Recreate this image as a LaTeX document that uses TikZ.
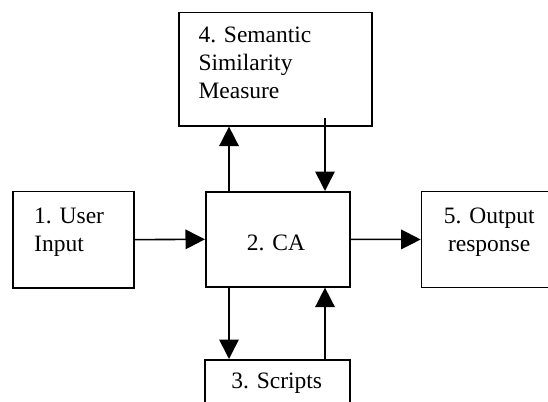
\documentclass[tikz,border=0pt]{standalone}
\usepackage{fontspec}
\setmainfont{Liberation Serif}
\usetikzlibrary{arrows.meta}
\begin{document}
\begin{tikzpicture}[x=1pt,y=-1pt,
  box/.style={draw=black, line width=1.6pt, rectangle, inner sep=0pt, anchor=north west},
  txt/.style={inner sep=0pt, font=\fontsize{23.5}{28}\selectfont, text=black},
  arr/.style={line width=1.6pt, -{Triangle[length=19.5pt,width=19.5pt]}}]
\useasboundingbox (0,0) rectangle (548,401);
\clip (0,0) rectangle (548,401);
% boxes
\node[box, minimum width=193pt, minimum height=113.3pt] (n4) at (178,11.7) {};
\node[box, minimum width=120.7pt, minimum height=96.3pt] (n1) at (12.3,190.7) {};
\node[box, minimum width=144pt, minimum height=95pt] (ca) at (205,191) {};
\node[box, minimum width=137pt, minimum height=96pt] (n5) at (420.7,190.7) {};
\node[box, minimum width=144.7pt, minimum height=60pt] (n3) at (204.3,359) {};
% texts
\node[txt, anchor=base west] (t4a) at (198.3,43) {4. Semantic};
\node[txt, anchor=base west] (t4b) at (198.3,71) {Similarity};
\node[txt, anchor=base west] (t4c) at (198.3,99) {Measure};
\node[txt, anchor=base west] (t1a) at (34,223) {1. User};
\node[txt, anchor=base west] (t1b) at (34,251) {Input};
\node[txt, anchor=base] (tca) at (276,250.5) {2. CA};
\node[txt, anchor=base] (t5a) at (489.2,223) {5. Output};
\node[txt, anchor=base] (t5b) at (489.2,251) {response};
\node[txt, anchor=base] (t3) at (276.7,388) {3. Scripts};
% connector helpers
\coordinate (xl) at (229,0);
\coordinate (xr) at (325,0);
\coordinate (s4) at (325,118);
% connectors
\draw[arr] (n1.east) -- (ca.west);
\draw[arr] (ca.east) -- (n5.west);
\draw[arr] (xl |- ca.north) -- (xl |- n4.south);
\draw[arr] (s4) -- (xr |- ca.north);
\draw[arr] (xl |- ca.south) -- (xl |- n3.north);
\draw[arr] (xr |- n3.north) -- (xr |- ca.south);
\end{tikzpicture}
\end{document}
